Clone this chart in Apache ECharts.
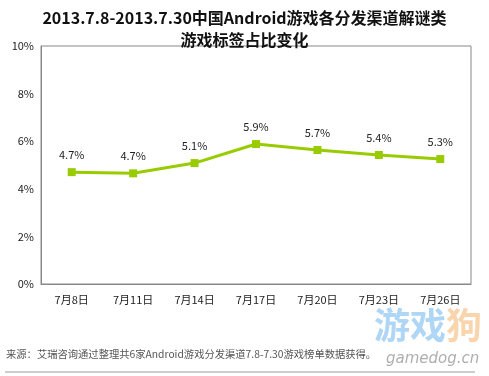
<!DOCTYPE html>
<html>
<head>
<meta charset="utf-8">
<script src="https://cdn.jsdelivr.net/npm/echarts@6/dist/echarts.min.js"></script>
<style>
  html, body { margin: 0; padding: 0; background: #fff; }
  #chart { width: 489px; height: 376px; }
</style>
</head>
<body>
<div id="chart"></div>
<script>
// values
const categories = ["7月8日", "7月11日", "7月14日", "7月17日", "7月20日", "7月23日", "7月26日"];
const shares = [4.7, 4.65, 5.08, 5.88, 5.63, 5.42, 5.25];
const shareLabels = ["4.7%", "4.7%", "5.1%", "5.9%", "5.7%", "5.4%", "5.3%"];

const font = "'Noto Sans CJK SC', 'DejaVu Sans', sans-serif";

const chart = echarts.init(document.getElementById("chart"));

const option = {
  animation: false,
  textStyle: { fontFamily: font },
  title: {
    text: "2013.7.8-2013.7.30中国Android游戏各分发渠道解谜类\n游戏标签占比变化",
    left: "center",
    top: 2,
    textStyle: {
      fontFamily: font,
      fontSize: 16,
      fontWeight: "bold",
      color: "#111",
      lineHeight: 22,
    },
  },
  grid: {
    left: 41,
    right: 18,
    top: 46,
    bottom: 92,
    show: true,
    borderColor: "#888",
    borderWidth: 1,
  },
  xAxis: {
    type: "category",
    data: categories,
    boundaryGap: true,
    axisLine: { lineStyle: { color: "#888" } },
    axisTick: { show: false },
    axisLabel: { color: "#222", fontSize: 11, margin: 10 },
  },
  yAxis: {
    type: "value",
    min: 0,
    max: 10,
    interval: 2,
    axisLine: { show: true, lineStyle: { color: "#888" } },
    axisTick: { show: false },
    splitLine: { show: false },
    axisLabel: { color: "#222", fontSize: 11, margin: 7, formatter: "{value}%" },
  },
  series: [
    {
      type: "line",
      data: shares,
      symbol: "rect",
      symbolSize: 8,
      lineStyle: { color: "#99cc00", width: 3 },
      itemStyle: { color: "#99cc00" },
      label: {
        show: true,
        position: "top",
        distance: 8,
        color: "#222",
        fontSize: 11,
        formatter: (p) => shareLabels[p.dataIndex],
      },
    },
  ],
  graphic: [
    {
      type: "text",
      left: 374,
      top: 307,
      z: 1,
      style: {
        text: "{b|游戏}{o|狗}",
        font: "bold 36px " + font,
        rich: {
          b: { fill: "rgba(110,180,235,0.55)", font: "bold 36px " + font, lineHeight: 40 },
          o: { fill: "rgba(245,185,120,0.6)", font: "bold 36px " + font, lineHeight: 40 },
        },
      },
    },
    {
      type: "text",
      left: 6,
      top: 349,
      z: 2,
      style: {
        text: "来源：艾瑞咨询通过整理共6家Android游戏分发渠道7.8-7.30游戏榜单数据获得。",
        fill: "#555",
        font: "10.3px " + font,
      },
    },
    {
      type: "line",
      shape: { x1: 5, y1: 372, x2: 475, y2: 372 },
      style: { stroke: "#999", lineWidth: 1 },
    },
    {
      type: "text",
      left: 386,
      top: 352,
      z: 3,
      style: { text: "gamedog.cn", fill: "rgba(120,120,120,0.6)", font: "italic 15px 'DejaVu Sans', sans-serif" },
    },
  ],
};

chart.setOption(option);
</script>
</body>
</html>
